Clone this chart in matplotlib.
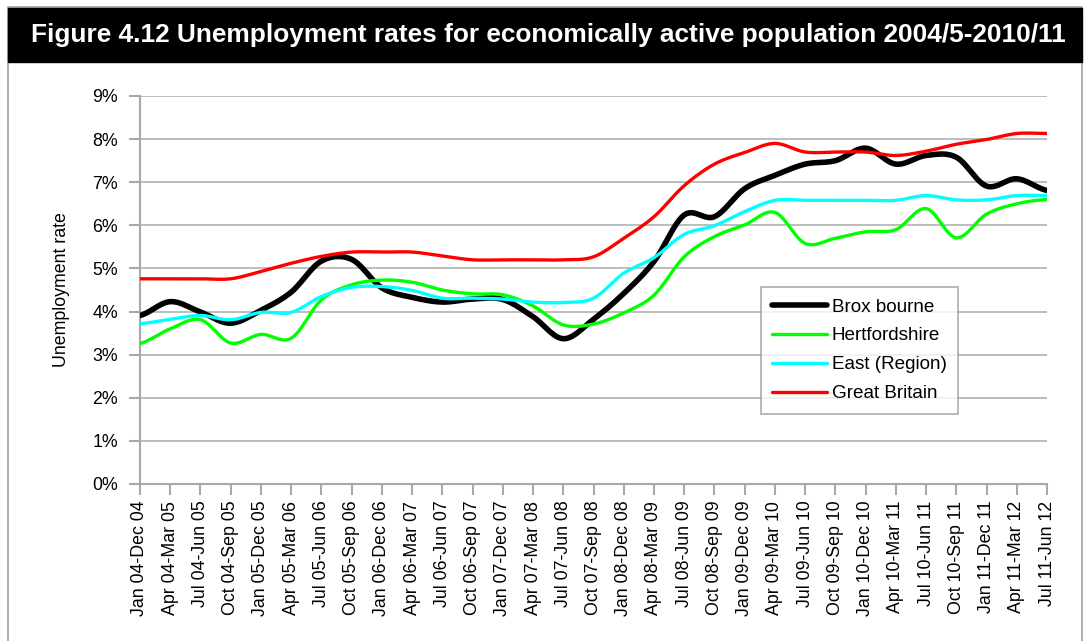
import numpy as np
import matplotlib.pyplot as plt
from matplotlib.patches import Rectangle

plt.rcParams['font.family'] = ['Liberation Sans', 'DejaVu Sans']

periods = ["Jan 04-Dec 04", "Apr 04-Mar 05", "Jul 04-Jun 05", "Oct 04-Sep 05",
           "Jan 05-Dec 05", "Apr 05-Mar 06", "Jul 05-Jun 06", "Oct 05-Sep 06",
           "Jan 06-Dec 06", "Apr 06-Mar 07", "Jul 06-Jun 07", "Oct 06-Sep 07",
           "Jan 07-Dec 07", "Apr 07-Mar 08", "Jul 07-Jun 08", "Oct 07-Sep 08",
           "Jan 08-Dec 08", "Apr 08-Mar 09", "Jul 08-Jun 09", "Oct 08-Sep 09",
           "Jan 09-Dec 09", "Apr 09-Mar 10", "Jul 09-Jun 10", "Oct 09-Sep 10",
           "Jan 10-Dec 10", "Apr 10-Mar 11", "Jul 10-Jun 11", "Oct 10-Sep 11",
           "Jan 11-Dec 11", "Apr 11-Mar 12", "Jul 11-Jun 12"]

broxbourne = [3.91, 4.23, 3.99, 3.73, 4.03, 4.45, 5.17, 5.21, 4.55, 4.33, 4.22,
              4.29, 4.28, 3.88, 3.37, 3.82, 4.42, 5.16, 6.24, 6.20, 6.85, 7.16,
              7.42, 7.50, 7.79, 7.42, 7.62, 7.58, 6.91, 7.08, 6.81]
hertfordshire = [3.26, 3.60, 3.81, 3.27, 3.47, 3.38, 4.27, 4.62, 4.73, 4.68, 4.50,
                 4.41, 4.39, 4.13, 3.69, 3.71, 3.97, 4.38, 5.27, 5.74, 6.01, 6.30,
                 5.58, 5.70, 5.85, 5.90, 6.39, 5.71, 6.26, 6.50, 6.60]
east = [3.72, 3.82, 3.91, 3.81, 3.98, 3.98, 4.35, 4.56, 4.58, 4.49, 4.31,
        4.31, 4.29, 4.22, 4.21, 4.31, 4.89, 5.25, 5.79, 5.99, 6.32, 6.58,
        6.58, 6.58, 6.58, 6.58, 6.69, 6.59, 6.59, 6.69, 6.69]
gb = [4.76, 4.76, 4.76, 4.76, 4.93, 5.12, 5.28, 5.38, 5.38, 5.38, 5.29,
      5.20, 5.20, 5.20, 5.20, 5.27, 5.70, 6.20, 6.92, 7.42, 7.69, 7.90,
      7.70, 7.70, 7.70, 7.62, 7.72, 7.88, 7.99, 8.13, 8.13]


def smooth(y, n=12):
    # Catmull-Rom curve through the points (like a "smoothed line" chart)
    y = np.asarray(y, float)
    p = np.concatenate([[y[0]], y, [y[-1]]])
    xs, ys = [], []
    t = np.linspace(0, 1, n, endpoint=False)
    for i in range(len(y) - 1):
        p0, p1, p2, p3 = p[i], p[i + 1], p[i + 2], p[i + 3]
        seg = 0.5 * (2 * p1 + (-p0 + p2) * t + (2 * p0 - 5 * p1 + 4 * p2 - p3) * t ** 2
                     + (-p0 + 3 * p1 - 3 * p2 + p3) * t ** 3)
        xs.append(i + t)
        ys.append(seg)
    xs.append([len(y) - 1])
    ys.append([y[-1]])
    return np.concatenate(xs), np.concatenate(ys)


fig = plt.figure(figsize=(10.9, 6.41), dpi=100)

# frame and title bar
fig.patches.append(Rectangle((8 / 1090, -0.01), 1074 / 1090, 1 - 7 / 641 + 0.01,
                             transform=fig.transFigure, fill=False,
                             edgecolor='#a0a0a0', linewidth=1.2))
fig.patches.append(Rectangle((8 / 1090, 1 - 62 / 641), 1074 / 1090, 54 / 641,
                             transform=fig.transFigure, facecolor='black',
                             edgecolor='black'))
fig.text(548 / 1090, 1 - 35 / 641,
         "Figure 4.12 Unemployment rates for economically active population 2004/5-2010/11",
         color='white', fontsize=18.9, fontweight='bold', ha='center', va='center')

ax = fig.add_axes([140 / 1090, 1 - 484 / 641, 907 / 1090, 388 / 641])

series = [("Brox bourne", broxbourne, 'black', 4.0),
          ("Hertfordshire", hertfordshire, '#00ff00', 2.4),
          ("East (Region)", east, '#00ffff', 2.4),
          ("Great Britain", gb, '#ff0000', 2.4)]
for k, (name, vals, col, lw) in enumerate(series):
    sx, sy = smooth(vals)
    ax.plot(sx, sy, color=col, lw=lw, label=name, zorder=3 + k,
            solid_capstyle='round', solid_joinstyle='round')

ax.set_xlim(0, len(periods) - 1)
ax.set_ylim(0, 9)
ax.set_xticks(range(len(periods)))
ax.set_xticklabels(periods, rotation=90, fontsize=12.8)
ax.set_yticks(range(10))
ax.set_yticklabels([f"{v}%" for v in range(10)], fontsize=12.8)
ax.set_ylabel("Unemployment rate", fontsize=12.8, labelpad=16)

ax.grid(axis='y', color='#b8b8b8', linewidth=1.3)
ax.set_axisbelow(True)
for s in ['top', 'right']:
    ax.spines[s].set_visible(False)
for s in ['left', 'bottom']:
    ax.spines[s].set_color('#a8a8a8')
    ax.spines[s].set_linewidth(1.5)
ax.tick_params(axis='both', color='#a8a8a8', width=1.5, length=8)
ax.tick_params(axis='y', pad=8)
ax.tick_params(axis='x', pad=4)

leg = ax.legend(loc='upper left', bbox_to_anchor=((761 - 140) / 907, (484 - 287) / 388),
                fontsize=13.6, frameon=True, fancybox=False, edgecolor='#a0a0a0',
                handlelength=2.9, handletextpad=0.25, borderpad=0.6, labelspacing=0.62,
                borderaxespad=0)
leg.get_frame().set_linewidth(1.3)

fig.savefig("out.png", dpi=100)
